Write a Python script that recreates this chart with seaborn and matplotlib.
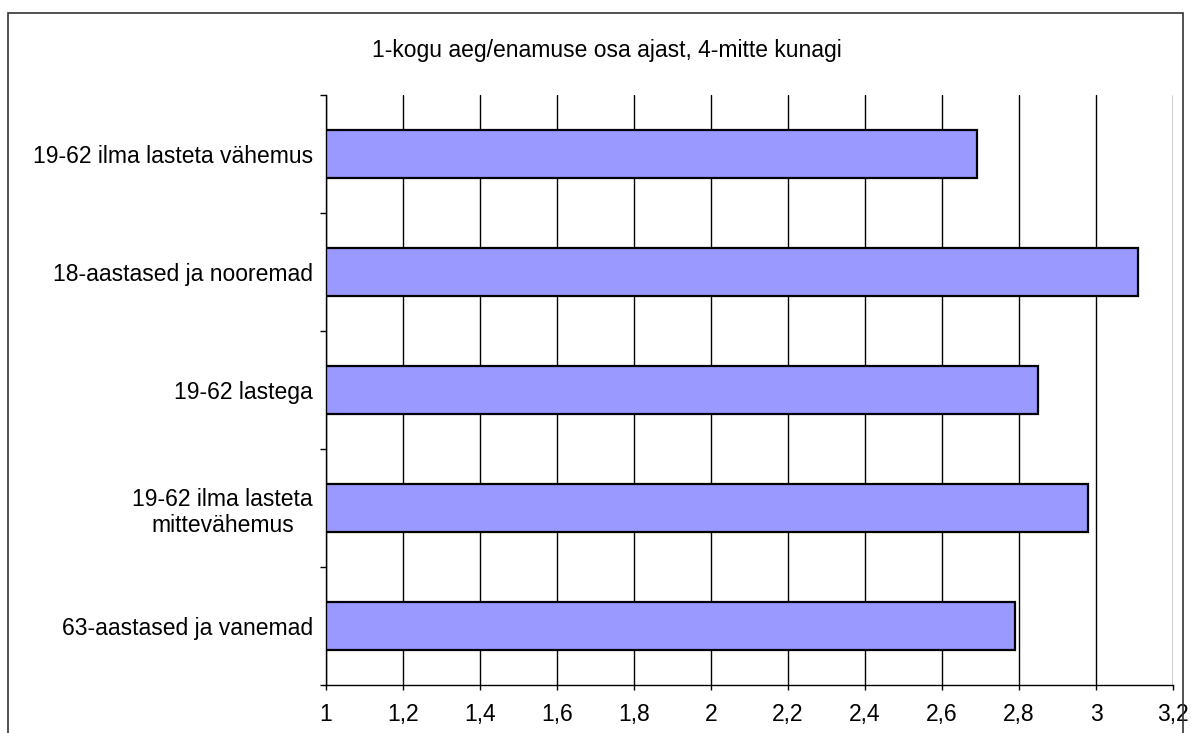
import matplotlib
matplotlib.use("Agg")
import matplotlib.pyplot as plt
import seaborn as sns
import pandas as pd
import numpy as np
from matplotlib.patches import Rectangle

categories = [
    "19-62 ilma lasteta vähemus",
    "18-aastased ja nooremad",
    "19-62 lastega",
    "19-62 ilma lasteta\nmittevähemus",
    "63-aastased ja vanemad",
]
values = [2.69, 3.11, 2.85, 2.98, 2.79]
x_ticks = [1.0, 1.2, 1.4, 1.6, 1.8, 2.0, 2.2, 2.4, 2.6, 2.8, 3.0, 3.2]
x_tick_labels = ["1", "1,2", "1,4", "1,6", "1,8", "2", "2,2", "2,4", "2,6", "2,8", "3", "3,2"]
title = "1-kogu aeg/enamuse osa ajast, 4-mitte kunagi"

sns.set_style("white")
plt.rcParams["font.family"] = ["Liberation Sans", "DejaVu Sans"]
plt.rcParams["text.color"] = "black"
plt.rcParams["xtick.color"] = "black"
plt.rcParams["ytick.color"] = "black"
plt.rcParams["xtick.labelcolor"] = "black"
plt.rcParams["ytick.labelcolor"] = "black"

FS = 16.5

fig = plt.figure(figsize=(11.93, 7.33), dpi=100)
ax = fig.add_axes([326 / 1193, 1 - 685 / 733, (1173 - 326) / 1193, (685 - 95) / 733])

df = pd.DataFrame({"cat": categories, "val": values})
sns.barplot(data=df, x="val", y="cat", orient="h", color="#9999FF",
            saturation=1, edgecolor="black", linewidth=1.6, width=0.41, ax=ax)

ax.set_xlim(1, 3.2)
ax.set_ylim(len(categories) - 0.5, -0.5)
ax.set_xticks(x_ticks)
ax.set_xticklabels(x_tick_labels, fontsize=FS)
ax.set_axisbelow(True)
ax.grid(axis="x", color="black", linewidth=1)
ax.grid(axis="y", visible=False)
ax.set_xlabel("")
ax.set_ylabel("")

ax.set_yticks(range(len(categories)))
ax.set_yticklabels(categories, fontsize=FS, multialignment="center")
ax.tick_params(axis="y", which="major", length=0, pad=9.5)
ax.set_yticks(np.arange(-0.5, len(categories), 1.0), minor=True)
ax.tick_params(axis="y", which="minor", length=4.5, width=1, color="black", direction="out", left=True)
ax.tick_params(axis="x", which="major", length=3.8, width=1, color="black", direction="out",
               bottom=True, pad=9)

for side in ["top", "right"]:
    ax.spines[side].set_visible(False)
for side in ["left", "bottom"]:
    ax.spines[side].set_color("black")
    ax.spines[side].set_linewidth(1)

fig.text(607 / 1193, 1 - 50 / 733, title, ha="center", va="center", fontsize=FS)

fig.patches.append(Rectangle((8 / 1193, -0.05), (1183 - 8) / 1193, 1 - 13 / 733 + 0.05,
                             transform=fig.transFigure, fill=False, edgecolor="#333333",
                             linewidth=1.2))

fig.savefig("out.png", dpi=100)
